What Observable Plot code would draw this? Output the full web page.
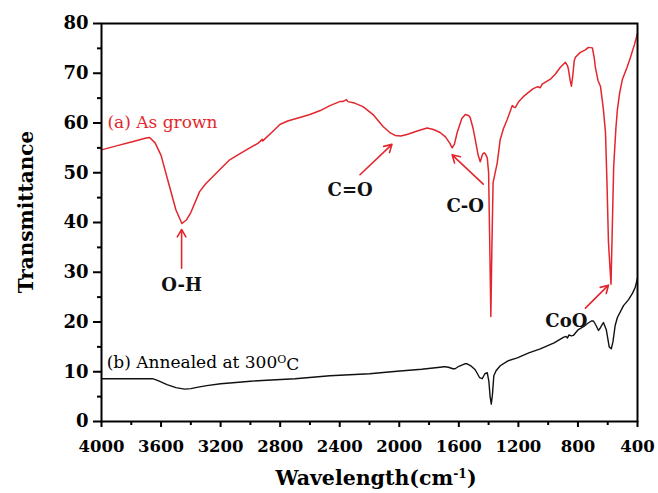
<!DOCTYPE html>
<html>
<head>
<meta charset="utf-8">
<script src="https://cdn.jsdelivr.net/npm/d3@7"></script>
<script src="https://cdn.jsdelivr.net/npm/@observablehq/plot@0.6"></script>
<style>
  html, body { margin: 0; padding: 0; background: #fff; }
  #chart svg { display: block; }
</style>
</head>
<body>
<div id="chart"></div>
<script>
// ---- Data ----
const asGrownWn = [4000,3900,3800,3700,3677,3640,3600,3550,3500,3460,3430,3400,3341,3300,3273,3200,3139,3050,3004,2950,2920,2917,2850,2802,2750,2668,2600,2530,2466,2400,2380,2355,2345,2300,2244,2176,2109,2060,2028,1990,1948,1880,1813,1770,1726,1690,1660,1645,1630,1611,1580,1557,1535,1524,1505,1490,1470,1456,1440,1430,1420,1409,1400,1392,1385,1378,1370,1342,1322,1300,1275,1241,1230,1221,1200,1167,1130,1100,1070,1053,1040,985,950,918,884,870,864,852,844,835,825,817,784,750,730,703,690,683,665,649,630,615,605,595,578,570,560,545,535,520,501,470,447,420,400];
const asGrownT  = [54.6,55.4,56.2,57.0,57.1,56.0,53.5,48.0,42.5,39.8,40.5,42.0,46.2,47.8,48.6,50.8,52.6,54.2,55.0,55.9,56.7,56.4,58.3,59.7,60.4,61.1,61.7,62.5,63.5,64.3,64.3,64.7,64.3,64.0,63.3,61.7,59.3,58.0,57.5,57.4,57.7,58.4,59.0,58.7,58.1,57.2,55.9,55.0,55.7,58.1,60.9,61.7,61.5,61.1,59.0,56.7,53.5,52.2,53.8,54.0,53.7,53.0,50.0,35.0,21.1,35.0,48.0,52.0,56.7,58.9,60.7,63.5,63.2,63.1,64.2,65.3,66.2,66.9,67.3,67.1,67.8,68.8,69.9,71.2,72.2,71.5,70.8,68.5,67.4,69.4,72.5,73.2,74.2,74.7,75.2,75.1,73.0,71.2,68.5,67.4,63.0,58.1,48.0,36.0,27.6,38.0,51.2,59.0,62.7,66.0,68.8,71.2,73.2,75.8,78.0];

const annealedWn = [4000,3800,3657,3620,3560,3500,3442,3400,3350,3293,3200,3118,3000,2890,2700,2466,2200,2015,1850,1726,1700,1692,1670,1640,1625,1600,1560,1544,1520,1490,1460,1443,1425,1409,1398,1390,1382,1374,1365,1350,1322,1270,1207,1130,1053,960,898,880,870,860,845,831,800,760,736,710,696,680,662,650,629,610,590,576,565,550,535,494,460,433,415,400];
const annealedT  = [8.6,8.6,8.6,8.2,7.4,6.8,6.5,6.6,6.9,7.2,7.6,7.8,8.1,8.3,8.6,9.2,9.6,10.1,10.5,10.9,11.0,11.0,10.9,10.6,10.6,11.1,11.6,11.6,11.2,10.4,8.8,8.6,9.6,9.8,8.0,5.0,3.5,5.5,9.2,10.2,11.2,12.2,12.8,13.8,14.6,15.8,16.9,17.1,16.8,17.4,17.2,17.3,18.4,19.1,19.7,20.2,20.2,19.4,18.3,18.8,19.9,18.5,15.0,14.6,16.0,19.3,20.9,23.3,24.5,25.8,27.0,28.8];

const xMajorTicks = [4000,3600,3200,2800,2400,2000,1600,1200,800,400];
const xMinorTicks = [3800,3400,3000,2600,2200,1800,1400,1000,600];
const yMajorTicks = [0,10,20,30,40,50,60,70,80];
const yMinorTicks = [5,15,25,35,45,55,65,75];

// series labels
const seriesLabelText = ["(a) As grown", "(b) Annealed at 300{O}C"];
const seriesLabelWn   = [3960, 3965];
const seriesLabelT    = [59.0, 10.8];
const seriesLabelColor = ["#e3262d", "#000000"];

// band annotations
const bandText = ["O-H", "C=O", "C-O", "CoO"];
const bandWn   = [3462, 2330, 1557, 878];
const bandT    = [27.4, 46.4, 43.2, 20.2];

// arrows (tail -> head)
const arrowWn1 = [3462, 2264, 1436, 750];
const arrowT1  = [30.8, 49.6, 47.7, 22.8];
const arrowWn2 = [3462, 2049, 1645, 595];
const arrowT2  = [38.6, 55.7, 53.6, 27.4];

// ---- Build tables ----
const asGrown = asGrownWn.map((w, i) => ({wn: w, t: asGrownT[i]}));
const annealed = annealedWn.map((w, i) => ({wn: w, t: annealedT[i]}));
const seriesLabels = seriesLabelText.map((s, i) => ({s, wn: seriesLabelWn[i], t: seriesLabelT[i], c: seriesLabelColor[i]}));
const bands = bandText.map((s, i) => ({s, wn: bandWn[i], t: bandT[i]}));
const arrows = arrowWn1.map((w, i) => ({x1: w, y1: arrowT1[i], x2: arrowWn2[i], y2: arrowT2[i]}));

const RED = "#e3262d";
const FONT = "DejaVu Serif";

const chart = Plot.plot({
  width: 658,
  height: 493,
  marginLeft: 101,
  marginRight: 21,
  marginTop: 23,
  marginBottom: 72,
  style: {fontFamily: FONT, background: "#fff", overflow: "visible"},
  x: {domain: [4000, 400], label: null},
  y: {domain: [0, 80], label: null},
  marks: [
    Plot.line(annealed, {x: "wn", y: "t", stroke: "#111", strokeWidth: 1.4}),
    Plot.line(asGrown, {x: "wn", y: "t", stroke: RED, strokeWidth: 1.5}),
    Plot.arrow(arrows, {x1: "x1", y1: "y1", x2: "x2", y2: "y2", stroke: RED, strokeWidth: 1.6, headLength: 8}),
    Plot.text(seriesLabels, {x: "wn", y: "t", text: "s", fill: "c", textAnchor: "start", lineAnchor: "bottom", fontSize: 17, fontFamily: FONT}),
    Plot.text(bands, {x: "wn", y: "t", text: "s", fill: "#111", fontWeight: "bold", fontSize: 18, fontFamily: FONT}),
    Plot.axisX({ticks: xMajorTicks, tickSize: 6, tickPadding: 13, tickFormat: d => String(d), fontSize: 16.5, fontWeight: "bold", label: null, strokeWidth: 2, fontFamily: FONT}),
    Plot.axisX({ticks: xMinorTicks, tickSize: 4, tickFormat: () => "", label: null, strokeWidth: 2}),
    Plot.axisY({ticks: yMajorTicks, tickSize: 8, tickPadding: 5, fontSize: 18, fontWeight: "bold", label: null, strokeWidth: 2, fontFamily: FONT}),
    Plot.axisY({ticks: yMinorTicks, tickSize: 4, tickFormat: () => "", label: null, strokeWidth: 2}),
    Plot.frame({stroke: "#000", strokeWidth: 2})
  ]
});

document.getElementById("chart").appendChild(chart);

// superscripts inside annotation text
d3.select(chart).selectAll("text").each(function() {
  const el = d3.select(this);
  const txt = el.text();
  const m = txt.match(/^(.*)\{(.+)\}(.*)$/);
  if (m) {
    el.text(null);
    el.append("tspan").text(m[1]);
    el.append("tspan").attr("dy", "-0.45em").attr("font-size", "0.65em").text(m[2]);
    el.append("tspan").attr("dy", "0.45em").text(m[3]);
  }
});

// axis titles
const svg = d3.select(chart);
const xt = svg.append("text")
  .attr("x", 376).attr("y", 485)
  .attr("text-anchor", "middle")
  .attr("font-family", FONT).attr("font-size", 20.5).attr("font-weight", "bold").attr("fill", "#000");
xt.append("tspan").text("Wavelength(cm");
xt.append("tspan").attr("dy", "-0.6em").attr("font-size", "0.6em").text("-1");
xt.append("tspan").attr("dy", "0.36em").text(")");

svg.append("text")
  .attr("transform", "translate(33,212) rotate(-90)")
  .attr("text-anchor", "middle")
  .attr("font-family", FONT).attr("font-size", 20).attr("font-weight", "bold").attr("fill", "#000")
  .text("Transmittance");
</script>
</body>
</html>
